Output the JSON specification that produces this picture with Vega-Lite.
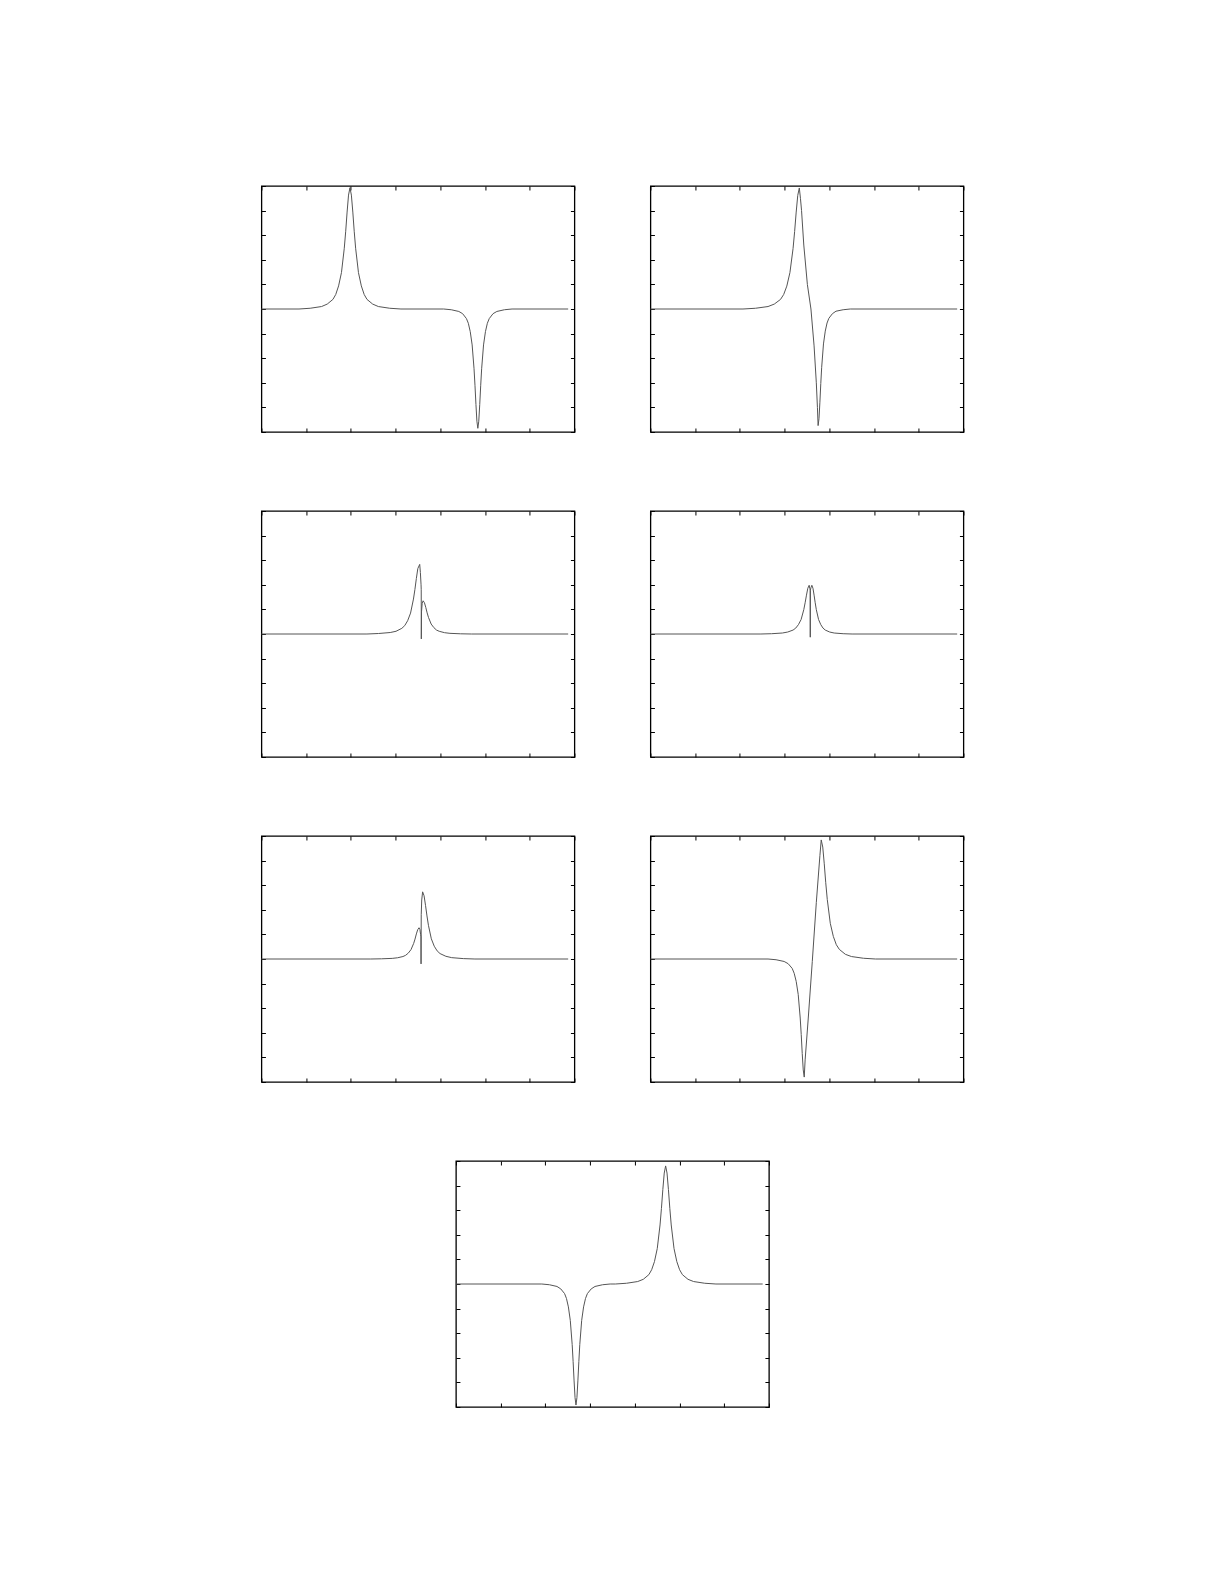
{
  "$schema": "https://vega.github.io/schema/vega-lite/v6.json",
  "padding": {"left": 258, "top": 184, "right": 10, "bottom": 10},
  "background": "white",
  "config": {
    "view": {"stroke": "black", "strokeWidth": 1.3},
    "axis": {"labels": false, "domain": false, "grid": false, "ticks": true, "tickSize": -4, "tickColor": "black", "tickWidth": 1, "minExtent": 0, "offset": 0},
    "axisX": {"tickCount": 7},
    "axisY": {"tickCount": 10},
    "line": {"color": "#555", "strokeWidth": 1}
  },
  "datasets": {
    "p1": [
      {"x": 0, "y": 0}, {"x": 0.84, "y": 0}, {"x": 1.09, "y": 0.03}, {"x": 1.345, "y": 0.1}, {"x": 1.472, "y": 0.2}, {"x": 1.599, "y": 0.39}, {"x": 1.662, "y": 0.59}, {"x": 1.726, "y": 0.94}, {"x": 1.79, "y": 1.48}, {"x": 1.853, "y": 2.47}, {"x": 1.885, "y": 3.16}, {"x": 1.916, "y": 3.94}, {"x": 1.948, "y": 4.63}, {"x": 1.98, "y": 4.93}, {"x": 2.012, "y": 4.63}, {"x": 2.044, "y": 3.94}, {"x": 2.075, "y": 3.16}, {"x": 2.107, "y": 2.47}, {"x": 2.17, "y": 1.48}, {"x": 2.234, "y": 0.94}, {"x": 2.298, "y": 0.59}, {"x": 2.361, "y": 0.39}, {"x": 2.488, "y": 0.2}, {"x": 2.615, "y": 0.1}, {"x": 2.87, "y": 0.03}, {"x": 3.12, "y": 0},
      {"x": 4.075, "y": 0}, {"x": 4.245, "y": -0.03}, {"x": 4.415, "y": -0.1}, {"x": 4.5, "y": -0.19}, {"x": 4.585, "y": -0.39}, {"x": 4.6275, "y": -0.58}, {"x": 4.67, "y": -0.92}, {"x": 4.7125, "y": -1.46}, {"x": 4.755, "y": -2.43}, {"x": 4.776, "y": -3.1}, {"x": 4.7975, "y": -3.88}, {"x": 4.819, "y": -4.56}, {"x": 4.84, "y": -4.85}, {"x": 4.861, "y": -4.56}, {"x": 4.8825, "y": -3.88}, {"x": 4.904, "y": -3.1}, {"x": 4.925, "y": -2.43}, {"x": 4.9675, "y": -1.46}, {"x": 5.01, "y": -0.92}, {"x": 5.0525, "y": -0.58}, {"x": 5.095, "y": -0.39}, {"x": 5.18, "y": -0.19}, {"x": 5.265, "y": -0.1}, {"x": 5.435, "y": -0.03}, {"x": 5.605, "y": 0}, {"x": 6.86, "y": 0}
    ],
    "p2": [
      {"x": 0, "y": 0}, {"x": 2.07, "y": 0}, {"x": 2.35, "y": 0.03}, {"x": 2.63, "y": 0.1}, {"x": 2.77, "y": 0.2}, {"x": 2.91, "y": 0.39}, {"x": 2.98, "y": 0.59}, {"x": 3.05, "y": 0.93}, {"x": 3.12, "y": 1.48}, {"x": 3.19, "y": 2.46}, {"x": 3.225, "y": 3.15}, {"x": 3.26, "y": 3.94}, {"x": 3.295, "y": 4.62}, {"x": 3.33, "y": 4.92}, {"x": 3.355, "y": 4.5}, {"x": 3.38, "y": 4.0}, {"x": 3.43, "y": 2.6}, {"x": 3.51, "y": 1.0}, {"x": 3.59, "y": 0}, {"x": 3.66, "y": -1.5}, {"x": 3.71, "y": -3.0}, {"x": 3.735, "y": -4.0}, {"x": 3.75, "y": -4.74}, {"x": 3.77, "y": -4.46}, {"x": 3.79, "y": -3.79}, {"x": 3.81, "y": -3.03}, {"x": 3.83, "y": -2.37}, {"x": 3.87, "y": -1.42}, {"x": 3.91, "y": -0.9}, {"x": 3.95, "y": -0.57}, {"x": 3.99, "y": -0.38}, {"x": 4.07, "y": -0.19}, {"x": 4.15, "y": -0.09}, {"x": 4.31, "y": -0.03}, {"x": 4.47, "y": 0}, {"x": 6.86, "y": 0}
    ],
    "p3": [
      {"x": 0, "y": 0}, {"x": 2.36, "y": 0}, {"x": 2.62, "y": 0.02}, {"x": 2.88, "y": 0.06}, {"x": 3.01, "y": 0.11}, {"x": 3.14, "y": 0.23}, {"x": 3.205, "y": 0.34}, {"x": 3.27, "y": 0.54}, {"x": 3.335, "y": 0.85}, {"x": 3.4, "y": 1.42}, {"x": 3.4325, "y": 1.81}, {"x": 3.465, "y": 2.26}, {"x": 3.4975, "y": 2.66}, {"x": 3.54, "y": 2.83}, {"x": 3.555, "y": 2.5}, {"x": 3.57, "y": 2.0}, {"x": 3.574, "y": 1.8}, {"x": 3.576, "y": -0.2}, {"x": 3.58, "y": 0.9}, {"x": 3.595, "y": 1.25}, {"x": 3.616, "y": 1.35}, {"x": 3.646, "y": 1.27}, {"x": 3.676, "y": 1.08}, {"x": 3.706, "y": 0.86}, {"x": 3.736, "y": 0.675}, {"x": 3.796, "y": 0.405}, {"x": 3.856, "y": 0.26}, {"x": 3.916, "y": 0.16}, {"x": 3.976, "y": 0.11}, {"x": 4.096, "y": 0.054}, {"x": 4.216, "y": 0.027}, {"x": 4.456, "y": 0.008}, {"x": 4.696, "y": 0}, {"x": 6.86, "y": 0}
    ],
    "p4": [
      {"x": 0, "y": 0}, {"x": 2.47, "y": 0}, {"x": 2.71, "y": 0.012}, {"x": 2.95, "y": 0.04}, {"x": 3.07, "y": 0.08}, {"x": 3.19, "y": 0.16}, {"x": 3.25, "y": 0.24}, {"x": 3.31, "y": 0.38}, {"x": 3.37, "y": 0.59}, {"x": 3.43, "y": 0.99}, {"x": 3.46, "y": 1.27}, {"x": 3.49, "y": 1.58}, {"x": 3.52, "y": 1.86}, {"x": 3.55, "y": 1.98}, {"x": 3.565, "y": 1.85}, {"x": 3.573, "y": 1.78}, {"x": 3.575, "y": -0.13}, {"x": 3.577, "y": 1.78}, {"x": 3.59, "y": 1.88}, {"x": 3.61, "y": 1.98}, {"x": 3.635, "y": 1.86}, {"x": 3.66, "y": 1.58}, {"x": 3.685, "y": 1.27}, {"x": 3.71, "y": 0.99}, {"x": 3.76, "y": 0.59}, {"x": 3.81, "y": 0.38}, {"x": 3.86, "y": 0.24}, {"x": 3.91, "y": 0.16}, {"x": 4.01, "y": 0.08}, {"x": 4.11, "y": 0.04}, {"x": 4.31, "y": 0.012}, {"x": 4.51, "y": 0}, {"x": 6.86, "y": 0}
    ],
    "p5": [
      {"x": 0, "y": 0}, {"x": 2.445, "y": 0}, {"x": 2.685, "y": 0.008}, {"x": 2.925, "y": 0.025}, {"x": 3.045, "y": 0.05}, {"x": 3.165, "y": 0.1}, {"x": 3.225, "y": 0.15}, {"x": 3.285, "y": 0.24}, {"x": 3.345, "y": 0.38}, {"x": 3.405, "y": 0.635}, {"x": 3.435, "y": 0.81}, {"x": 3.465, "y": 1.02}, {"x": 3.495, "y": 1.19}, {"x": 3.525, "y": 1.27}, {"x": 3.545, "y": 1.2}, {"x": 3.56, "y": 1.0}, {"x": 3.568, "y": 0.9}, {"x": 3.57, "y": -0.2}, {"x": 3.574, "y": 1.8}, {"x": 3.585, "y": 2.4}, {"x": 3.605, "y": 2.73}, {"x": 3.6375, "y": 2.57}, {"x": 3.67, "y": 2.18}, {"x": 3.7025, "y": 1.75}, {"x": 3.735, "y": 1.37}, {"x": 3.8, "y": 0.82}, {"x": 3.865, "y": 0.52}, {"x": 3.93, "y": 0.33}, {"x": 3.995, "y": 0.22}, {"x": 4.125, "y": 0.11}, {"x": 4.255, "y": 0.055}, {"x": 4.515, "y": 0.016}, {"x": 4.775, "y": 0}, {"x": 6.86, "y": 0}
    ],
    "p6": [
      {"x": 0, "y": 0}, {"x": 2.63, "y": 0}, {"x": 2.81, "y": -0.03}, {"x": 2.99, "y": -0.1}, {"x": 3.08, "y": -0.19}, {"x": 3.17, "y": -0.38}, {"x": 3.215, "y": -0.58}, {"x": 3.26, "y": -0.91}, {"x": 3.305, "y": -1.44}, {"x": 3.35, "y": -2.4}, {"x": 3.3725, "y": -3.07}, {"x": 3.395, "y": -3.84}, {"x": 3.4175, "y": -4.51}, {"x": 3.44, "y": -4.8}, {"x": 3.46, "y": -4.1}, {"x": 3.53, "y": -2.4}, {"x": 3.62, "y": -0.1}, {"x": 3.71, "y": 2.3}, {"x": 3.79, "y": 4.2}, {"x": 3.82, "y": 4.84}, {"x": 3.854, "y": 4.55}, {"x": 3.8875, "y": 3.87}, {"x": 3.921, "y": 3.1}, {"x": 3.955, "y": 2.42}, {"x": 4.0225, "y": 1.45}, {"x": 4.09, "y": 0.92}, {"x": 4.1575, "y": 0.58}, {"x": 4.225, "y": 0.39}, {"x": 4.36, "y": 0.19}, {"x": 4.495, "y": 0.1}, {"x": 4.765, "y": 0.03}, {"x": 5.035, "y": 0}, {"x": 6.86, "y": 0}
    ],
    "p7": [
      {"x": 0, "y": 0}, {"x": 1.92, "y": 0}, {"x": 2.09, "y": -0.03}, {"x": 2.26, "y": -0.1}, {"x": 2.345, "y": -0.2}, {"x": 2.43, "y": -0.39}, {"x": 2.4725, "y": -0.59}, {"x": 2.515, "y": -0.93}, {"x": 2.5575, "y": -1.48}, {"x": 2.6, "y": -2.46}, {"x": 2.621, "y": -3.15}, {"x": 2.6425, "y": -3.94}, {"x": 2.664, "y": -4.62}, {"x": 2.685, "y": -4.92}, {"x": 2.706, "y": -4.62}, {"x": 2.7275, "y": -3.94}, {"x": 2.749, "y": -3.15}, {"x": 2.77, "y": -2.46}, {"x": 2.8125, "y": -1.48}, {"x": 2.855, "y": -0.93}, {"x": 2.8975, "y": -0.59}, {"x": 2.94, "y": -0.39}, {"x": 3.025, "y": -0.2}, {"x": 3.11, "y": -0.1}, {"x": 3.28, "y": -0.03}, {"x": 3.45, "y": 0},
      {"x": 3.565, "y": 0}, {"x": 3.815, "y": 0.03}, {"x": 4.065, "y": 0.1}, {"x": 4.19, "y": 0.19}, {"x": 4.315, "y": 0.38}, {"x": 4.3775, "y": 0.58}, {"x": 4.44, "y": 0.91}, {"x": 4.5025, "y": 1.44}, {"x": 4.565, "y": 2.4}, {"x": 4.596, "y": 3.07}, {"x": 4.6275, "y": 3.84}, {"x": 4.659, "y": 4.51}, {"x": 4.69, "y": 4.8}, {"x": 4.721, "y": 4.51}, {"x": 4.7525, "y": 3.84}, {"x": 4.784, "y": 3.07}, {"x": 4.815, "y": 2.4}, {"x": 4.8775, "y": 1.44}, {"x": 4.94, "y": 0.91}, {"x": 5.0025, "y": 0.58}, {"x": 5.065, "y": 0.38}, {"x": 5.19, "y": 0.19}, {"x": 5.315, "y": 0.1}, {"x": 5.565, "y": 0.03}, {"x": 5.815, "y": 0}, {"x": 6.86, "y": 0}
    ]
  },
  "vconcat": [
    {
      "hconcat": [
        {
          "width": 313, "height": 246, "data": {"name": "p1"},
          "layer": [
            {"mark": "line", "encoding": {"x": {"field": "x", "type": "quantitative", "scale": {"domain": [0, 7]}, "axis": {"orient": "bottom", "title": null}}, "y": {"field": "y", "type": "quantitative", "scale": {"domain": [-5, 5]}, "axis": {"orient": "left", "title": null}}}},
            {"mark": {"type": "line", "opacity": 0}, "encoding": {"x": {"field": "x", "type": "quantitative", "scale": {"domain": [0, 7]}, "axis": {"orient": "top", "title": null}}, "y": {"field": "y", "type": "quantitative", "scale": {"domain": [-5, 5]}, "axis": {"orient": "right", "title": null}}}}
          ],
          "resolve": {"axis": {"x": "independent", "y": "independent"}}
        },
        {
          "width": 313, "height": 246, "data": {"name": "p2"},
          "layer": [
            {"mark": "line", "encoding": {"x": {"field": "x", "type": "quantitative", "scale": {"domain": [0, 7]}, "axis": {"orient": "bottom", "title": null}}, "y": {"field": "y", "type": "quantitative", "scale": {"domain": [-5, 5]}, "axis": {"orient": "left", "title": null}}}},
            {"mark": {"type": "line", "opacity": 0}, "encoding": {"x": {"field": "x", "type": "quantitative", "scale": {"domain": [0, 7]}, "axis": {"orient": "top", "title": null}}, "y": {"field": "y", "type": "quantitative", "scale": {"domain": [-5, 5]}, "axis": {"orient": "right", "title": null}}}}
          ],
          "resolve": {"axis": {"x": "independent", "y": "independent"}}
        }
      ],
      "spacing": 71
    },
    {
      "hconcat": [
        {
          "width": 313, "height": 246, "data": {"name": "p3"},
          "layer": [
            {"mark": "line", "encoding": {"x": {"field": "x", "type": "quantitative", "scale": {"domain": [0, 7]}, "axis": {"orient": "bottom", "title": null}}, "y": {"field": "y", "type": "quantitative", "scale": {"domain": [-5, 5]}, "axis": {"orient": "left", "title": null}}}},
            {"mark": {"type": "line", "opacity": 0}, "encoding": {"x": {"field": "x", "type": "quantitative", "scale": {"domain": [0, 7]}, "axis": {"orient": "top", "title": null}}, "y": {"field": "y", "type": "quantitative", "scale": {"domain": [-5, 5]}, "axis": {"orient": "right", "title": null}}}}
          ],
          "resolve": {"axis": {"x": "independent", "y": "independent"}}
        },
        {
          "width": 313, "height": 246, "data": {"name": "p4"},
          "layer": [
            {"mark": "line", "encoding": {"x": {"field": "x", "type": "quantitative", "scale": {"domain": [0, 7]}, "axis": {"orient": "bottom", "title": null}}, "y": {"field": "y", "type": "quantitative", "scale": {"domain": [-5, 5]}, "axis": {"orient": "left", "title": null}}}},
            {"mark": {"type": "line", "opacity": 0}, "encoding": {"x": {"field": "x", "type": "quantitative", "scale": {"domain": [0, 7]}, "axis": {"orient": "top", "title": null}}, "y": {"field": "y", "type": "quantitative", "scale": {"domain": [-5, 5]}, "axis": {"orient": "right", "title": null}}}}
          ],
          "resolve": {"axis": {"x": "independent", "y": "independent"}}
        }
      ],
      "spacing": 71
    },
    {
      "hconcat": [
        {
          "width": 313, "height": 246, "data": {"name": "p5"},
          "layer": [
            {"mark": "line", "encoding": {"x": {"field": "x", "type": "quantitative", "scale": {"domain": [0, 7]}, "axis": {"orient": "bottom", "title": null}}, "y": {"field": "y", "type": "quantitative", "scale": {"domain": [-5, 5]}, "axis": {"orient": "left", "title": null}}}},
            {"mark": {"type": "line", "opacity": 0}, "encoding": {"x": {"field": "x", "type": "quantitative", "scale": {"domain": [0, 7]}, "axis": {"orient": "top", "title": null}}, "y": {"field": "y", "type": "quantitative", "scale": {"domain": [-5, 5]}, "axis": {"orient": "right", "title": null}}}}
          ],
          "resolve": {"axis": {"x": "independent", "y": "independent"}}
        },
        {
          "width": 313, "height": 246, "data": {"name": "p6"},
          "layer": [
            {"mark": "line", "encoding": {"x": {"field": "x", "type": "quantitative", "scale": {"domain": [0, 7]}, "axis": {"orient": "bottom", "title": null}}, "y": {"field": "y", "type": "quantitative", "scale": {"domain": [-5, 5]}, "axis": {"orient": "left", "title": null}}}},
            {"mark": {"type": "line", "opacity": 0}, "encoding": {"x": {"field": "x", "type": "quantitative", "scale": {"domain": [0, 7]}, "axis": {"orient": "top", "title": null}}, "y": {"field": "y", "type": "quantitative", "scale": {"domain": [-5, 5]}, "axis": {"orient": "right", "title": null}}}}
          ],
          "resolve": {"axis": {"x": "independent", "y": "independent"}}
        }
      ],
      "spacing": 71
    },
    {
      "width": 313, "height": 246, "data": {"name": "p7"},
      "layer": [
        {"mark": "line", "encoding": {"x": {"field": "x", "type": "quantitative", "scale": {"domain": [0, 7]}, "axis": {"orient": "bottom", "title": null}}, "y": {"field": "y", "type": "quantitative", "scale": {"domain": [-5, 5]}, "axis": {"orient": "left", "title": null}}}},
        {"mark": {"type": "line", "opacity": 0}, "encoding": {"x": {"field": "x", "type": "quantitative", "scale": {"domain": [0, 7]}, "axis": {"orient": "top", "title": null}}, "y": {"field": "y", "type": "quantitative", "scale": {"domain": [-5, 5]}, "axis": {"orient": "right", "title": null}}}}
      ],
      "resolve": {"axis": {"x": "independent", "y": "independent"}}
    }
  ],
  "spacing": 75,
  "center": true
}
